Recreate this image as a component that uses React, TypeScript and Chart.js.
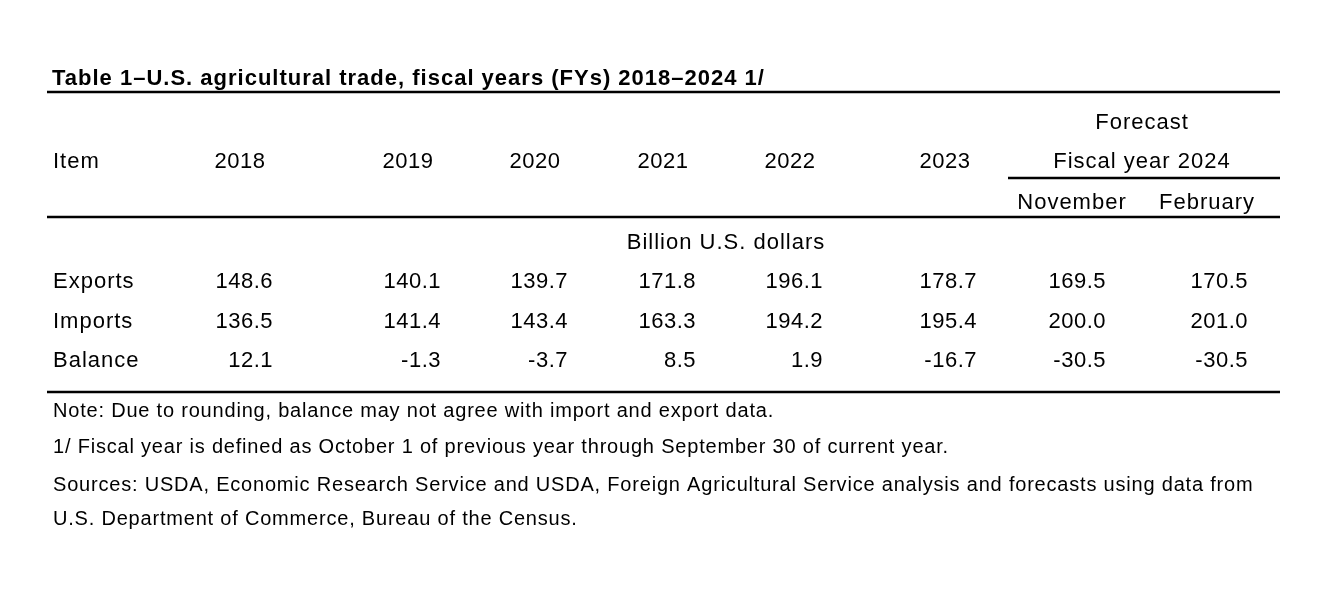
import React, { useEffect, useRef } from "react";
import { Chart, registerables } from "chart.js";

Chart.register(...registerables);

// ---------- data ----------
const TITLE = "Table 1–U.S. agricultural trade, fiscal years (FYs) 2018–2024 1/";
const ITEM_HEADER = "Item";
const YEAR_HEADERS = ["2018", "2019", "2020", "2021", "2022", "2023"];
const FORECAST_HEADER = "Forecast";
const FORECAST_YEAR = "Fiscal year 2024";
const FORECAST_COLUMNS = ["November", "February"];
const UNIT_LABEL = "Billion U.S. dollars";
const ROW_LABELS = ["Exports", "Imports", "Balance"];
const EXPORTS = [148.6, 140.1, 139.7, 171.8, 196.1, 178.7, 169.5, 170.5];
const IMPORTS = [136.5, 141.4, 143.4, 163.3, 194.2, 195.4, 200.0, 201.0];
const BALANCE = [12.1, -1.3, -3.7, 8.5, 1.9, -16.7, -30.5, -30.5];
const NOTES = [
  "Note: Due to rounding, balance may not agree with import and export data.",
  "1/ Fiscal year is defined as October 1 of previous year through September 30 of current year.",
  "Sources: USDA, Economic Research Service and USDA, Foreign Agricultural Service analysis and forecasts using data from",
  "U.S. Department of Commerce, Bureau of the Census.",
];

// ---------- layout (grid units on a 1328 x 590 sheet) ----------
const W = 1328;
const H = 590;
const LEFT = 53;
const RULE_LEFT = 47;
const RULE_RIGHT = 1280;
const COL_CENTER = [240, 408, 535, 663, 790, 945, 1072, 1207];
const COL_RIGHT = [273, 441, 568, 696, 823, 977, 1106, 1248];
const FORECAST_CENTER = 1142;
const FORECAST_RULE_LEFT = 1008;
const UNIT_CENTER = 726;
const TEXT_DY = 1.5;
const Y_TITLE = 77;
const Y_RULE_TOP = 92;
const Y_FORECAST = 121;
const Y_HEADER = 160;
const Y_RULE_FORECAST = 178;
const Y_SUBHEADER = 201;
const Y_RULE_HEADER = 217;
const Y_UNIT = 241;
const Y_ROWS = [280, 320, 359];
const Y_RULE_BOTTOM = 392;
const Y_NOTES = [410, 446, 484, 518];

const FONT_FAMILY = '"Liberation Sans", Arial, Helvetica, sans-serif';
const BODY_FONT = `22px ${FONT_FAMILY}`;
const NOTE_FONT = `20px ${FONT_FAMILY}`;
const TITLE_FONT = `bold 22px ${FONT_FAMILY}`;
const BODY_SPACING = "1px";
const NUMBER_SPACING = "0.5px";
const NOTE_SPACING = "0.8px";
const TITLE_SPACING = "1px";

const SERIES = [EXPORTS, IMPORTS, BALANCE];

const tablePlugin = {
  id: "tableText",
  afterDatasetsDraw(chart: any) {
    const { ctx } = chart;
    const xs = chart.scales.x;
    const ys = chart.scales.y;
    const px = (v: number) => xs.getPixelForValue(v);
    const py = (v: number) => ys.getPixelForValue(v);

    ctx.save();
    ctx.fillStyle = "#000";
    ctx.strokeStyle = "#000";
    ctx.textBaseline = "middle";

    const text = (
      s: string,
      x: number,
      y: number,
      align: CanvasTextAlign,
      font: string,
      spacing: string
    ) => {
      ctx.font = font;
      (ctx as any).letterSpacing = spacing;
      ctx.textAlign = align;
      ctx.fillText(s, px(x), py(y) + TEXT_DY);
    };
    const rule = (x1: number, x2: number, y: number, w: number) => {
      ctx.lineWidth = w;
      ctx.beginPath();
      ctx.moveTo(px(x1), py(y));
      ctx.lineTo(px(x2), py(y));
      ctx.stroke();
    };

    // title + rules
    text(TITLE, LEFT - 1, Y_TITLE, "left", TITLE_FONT, TITLE_SPACING);
    rule(RULE_LEFT, RULE_RIGHT, Y_RULE_TOP, 2.5);
    rule(FORECAST_RULE_LEFT, RULE_RIGHT, Y_RULE_FORECAST, 2.5);
    rule(RULE_LEFT, RULE_RIGHT, Y_RULE_HEADER, 2.5);
    rule(RULE_LEFT, RULE_RIGHT, Y_RULE_BOTTOM, 2.5);

    // headers
    text(FORECAST_HEADER, FORECAST_CENTER, Y_FORECAST, "center", BODY_FONT, BODY_SPACING);
    text(ITEM_HEADER, LEFT, Y_HEADER, "left", BODY_FONT, BODY_SPACING);
    YEAR_HEADERS.forEach((y, i) =>
      text(y, COL_CENTER[i], Y_HEADER, "center", BODY_FONT, NUMBER_SPACING)
    );
    text(FORECAST_YEAR, FORECAST_CENTER, Y_HEADER, "center", BODY_FONT, BODY_SPACING);
    FORECAST_COLUMNS.forEach((c, i) =>
      text(c, COL_CENTER[YEAR_HEADERS.length + i], Y_SUBHEADER, "center", BODY_FONT, BODY_SPACING)
    );
    text(UNIT_LABEL, UNIT_CENTER, Y_UNIT, "center", BODY_FONT, BODY_SPACING);

    // row labels
    ROW_LABELS.forEach((r, i) => text(r, LEFT, Y_ROWS[i], "left", BODY_FONT, BODY_SPACING));

    // cells, positioned by the dataset elements
    ctx.font = BODY_FONT;
    (ctx as any).letterSpacing = NUMBER_SPACING;
    ctx.textAlign = "right";
    chart.data.datasets.forEach((ds: any, di: number) => {
      const meta = chart.getDatasetMeta(di);
      meta.data.forEach((el: any, i: number) => {
        ctx.fillText(ds.values[i].toFixed(1), el.x, el.y + TEXT_DY);
      });
    });

    // notes
    NOTES.forEach((n, i) => text(n, LEFT, Y_NOTES[i], "left", NOTE_FONT, NOTE_SPACING));
    ctx.restore();
  },
};

export default function App() {
  const ref = useRef<HTMLCanvasElement | null>(null);

  useEffect(() => {
    if (!ref.current) return;
    const chart = new Chart(ref.current, {
      type: "scatter",
      data: {
        datasets: SERIES.map((vals, r) => ({
          label: ROW_LABELS[r],
          values: vals,
          data: vals.map((_, i) => ({ x: COL_RIGHT[i], y: Y_ROWS[r] })),
          pointRadius: 0,
          pointHoverRadius: 0,
        })) as any,
      },
      options: {
        animation: false,
        responsive: false,
        maintainAspectRatio: false,
        devicePixelRatio: 1,
        layout: { padding: 0 },
        events: [],
        scales: {
          x: { type: "linear", min: 0, max: W, display: false },
          y: { type: "linear", min: 0, max: H, reverse: true, display: false },
        },
        plugins: { legend: { display: false }, tooltip: { enabled: false } },
      },
      plugins: [tablePlugin],
    });
    return () => chart.destroy();
  }, []);

  return (
    <div style={{ position: "absolute", left: 0, top: 0, width: W, height: H, background: "#fff" }}>
      <canvas ref={ref} width={W} height={H} style={{ display: "block", width: W, height: H }} />
    </div>
  );
}
